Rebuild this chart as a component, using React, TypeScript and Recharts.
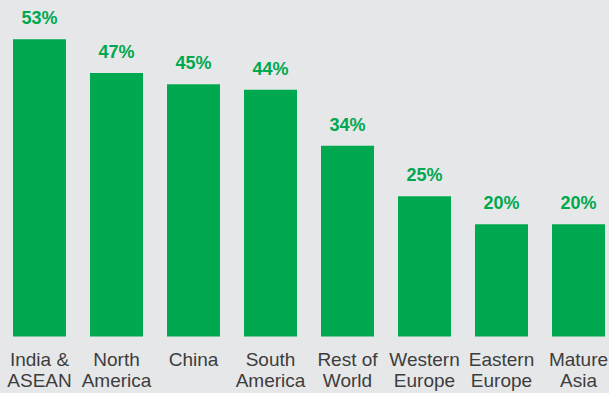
import React from "react";
import { BarChart, Bar, XAxis, YAxis, LabelList } from "recharts";

const categories = [
  "India &\nASEAN",
  "North\nAmerica",
  "China",
  "South\nAmerica",
  "Rest of\nWorld",
  "Western\nEurope",
  "Eastern\nEurope",
  "Mature\nAsia",
];
const values = [53, 47, 45, 44, 34, 25, 20, 20];

const data = categories.map((c, i) => ({ name: c, value: values[i] }));

const GREEN = "#00a84f";
const FONT = "'Liberation Sans', Arial, sans-serif";

const Tick = (props: any) => {
  const { x, y, payload } = props;
  const lines = String(payload.value).split("\n");
  return (
    <g>
      {lines.map((l: string, i: number) => (
        <text
          key={i}
          x={x}
          y={y + 29.5 + i * 21}
          textAnchor="middle"
          fontFamily={FONT}
          fontSize={19}
          fill="#3d3d3d"
        >
          {l}
        </text>
      ))}
    </g>
  );
};

const TopLabel = (props: any) => {
  const { x, y, width, value } = props;
  return (
    <text
      x={x + width / 2}
      y={y - 15}
      textAnchor="middle"
      fontFamily={FONT}
      fontWeight="bold"
      fontSize={18}
      fill={GREEN}
    >
      {value}%
    </text>
  );
};

export default function App() {
  return (
    <div
      style={{
        position: "absolute",
        left: 0,
        top: 0,
        width: 609,
        height: 393,
        background: "#e6e7e8",
        overflow: "hidden",
      }}
    >
      <BarChart
        width={617}
        height={393}
        data={data}
        margin={{ top: 0, right: 0, bottom: 0, left: 1 }}
      >
        <XAxis
          dataKey="name"
          axisLine={false}
          tickLine={false}
          tickSize={0}
          tickMargin={0}
          height={56.5}
          interval={0}
          tick={<Tick />}
        />
        <YAxis hide domain={[0, 60]} />
        <Bar dataKey="value" fill={GREEN} barSize={53} isAnimationActive={false}>
          <LabelList dataKey="value" content={<TopLabel />} />
        </Bar>
      </BarChart>
    </div>
  );
}
